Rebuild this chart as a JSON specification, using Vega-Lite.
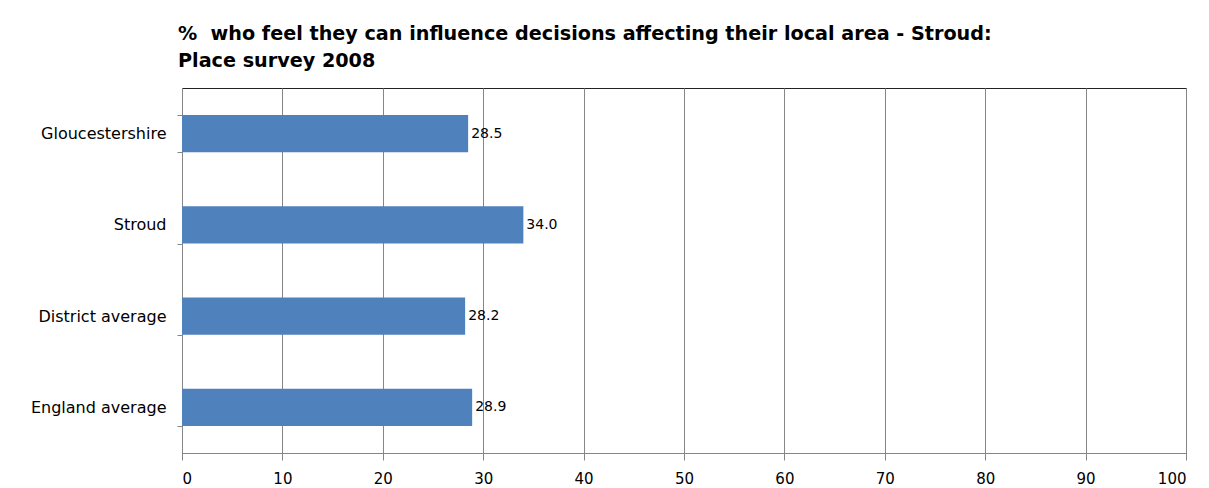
{
  "$schema": "https://vega.github.io/schema/vega-lite/v6.json",
  "width": 1004,
  "height": 365,
  "autosize": {"type": "none"},
  "padding": {"left": 182, "top": 88, "right": 23, "bottom": 35},
  "background": "white",
  "config": {
    "view": {"stroke": "#222222", "strokeWidth": 1},
    "font": "DejaVu Sans"
  },
  "title": {
    "text": ["%\u00a0 who feel they can influence decisions affecting their local area - Stroud:", "Place survey 2008"],
    "anchor": "start",
    "frame": "group",
    "font": "DejaVu Sans",
    "fontSize": 19.2,
    "fontWeight": "bold",
    "color": "black",
    "dx": -4,
    "offset": 9,
    "lineHeight": 27
  },
  "data": {
    "values": [
      {"area": "Gloucestershire", "value": 28.5},
      {"area": "Stroud", "value": 34.0},
      {"area": "District average", "value": 28.2},
      {"area": "England average", "value": 28.9}
    ]
  },
  "encoding": {
    "y": {
      "field": "area",
      "type": "nominal",
      "sort": null,
      "scale": {"paddingInner": 0.59, "paddingOuter": 0.295},
      "axis": {
        "title": null,
        "labelFontSize": 16,
        "labelColor": "black",
        "labelFont": "DejaVu Sans",
        "tickBand": "extent",
        "tickSize": 5,
        "tickColor": "#868686",
        "domainColor": "#868686",
        "labelPadding": 11,
        "grid": false
      }
    },
    "x": {
      "field": "value",
      "type": "quantitative",
      "scale": {"domain": [0, 100], "nice": false},
      "axis": {
        "title": null,
        "values": [0, 10, 20, 30, 40, 50, 60, 70, 80, 90, 100],
        "grid": true,
        "gridColor": "#868686",
        "gridOpacity": 1,
        "domainColor": "#868686",
        "tickColor": "#868686",
        "tickSize": 7,
        "labelFontSize": 15,
        "labelColor": "black",
        "labelFont": "DejaVu Sans",
        "labelPadding": 11
      }
    }
  },
  "layer": [
    {"mark": {"type": "bar", "color": "#4F81BD"}},
    {
      "mark": {"type": "text", "align": "left", "baseline": "middle", "dx": 3, "fontSize": 14, "color": "black", "font": "DejaVu Sans"},
      "encoding": {"text": {"field": "value", "type": "quantitative", "format": ".1f"}}
    }
  ]
}
